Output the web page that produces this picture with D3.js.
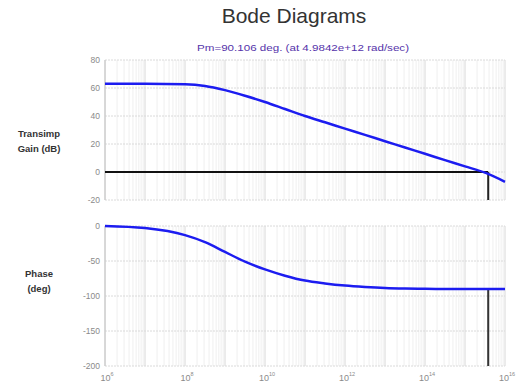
<!DOCTYPE html>
<html>
<head>
<meta charset="utf-8">
<script src="https://cdn.jsdelivr.net/npm/d3@7"></script>
<style>
body { margin: 0; background: #fff; }
svg { font-family: "Liberation Sans", Arial, sans-serif; }
</style>
</head>
<body>
<div id="chart"></div>
<script>
// data (frequency as log10 rad/sec)
var freqExp = [6, 7, 8, 8.5, 9, 9.5, 10, 10.5, 11, 11.5, 12, 12.5, 13, 13.5, 14, 14.5, 15, 15.5, 16];
var gainDb = [63, 63, 62.7, 61.5, 58.5, 54.5, 50, 45, 40, 35.5, 31, 26.5, 22, 17.5, 13, 8.5, 4, -0.5, -7];
var phaseDeg = [0, -3, -13, -23, -37, -51, -62, -71, -78, -82, -85, -87, -88.5, -89.3, -89.7, -89.9, -90, -90, -90];
var gainTicks = [80, 60, 40, 20, 0, -20];
var phaseTicks = [0, -50, -100, -150, -200];
var decadeTicks = [6, 8, 10, 12, 14, 16];
var crossExp = 15.58;   // where the gain crosses 0 dB
var crossPhase = -90;

var w = 522, h = 385;
var svg = d3.select("#chart").append("svg").attr("width", w).attr("height", h);

var x = d3.scaleLog().domain([1e6, 1e16]).range([105, 505]);
var yGain = d3.scaleLinear().domain([-20, 80]).range([200, 60]);
var yPhase = d3.scaleLinear().domain([-200, 0]).range([366, 226]);

// minor log grid values
var minor = [];
for (var e = 6; e < 16; e++) {
	for (var k = 1; k < 10; k++) minor.push(k * Math.pow(10, e));
}
minor.push(1e16);

function panel(y, ticks, yTop, yBot) {
	var g = svg.append("g");
	g.selectAll(".vg").data(minor).enter().append("line")
		.attr("x1", function (d) { return x(d); })
		.attr("x2", function (d) { return x(d); })
		.attr("y1", yTop).attr("y2", yBot)
		.attr("stroke", function (d) { return Math.log10(d) % 1 === 0 ? "#d8d8d8" : "#efefef"; })
		.attr("stroke-width", 1);
	g.selectAll(".hg").data(ticks).enter().append("line")
		.attr("x1", 105).attr("x2", 505)
		.attr("y1", function (d) { return y(d); })
		.attr("y2", function (d) { return y(d); })
		.attr("stroke", "#dadada")
		.attr("stroke-dasharray", "2,1");
	// left axis
	g.append("line").attr("x1", 105).attr("x2", 105).attr("y1", yTop).attr("y2", yBot)
		.attr("stroke", "#c4c4c4");
	g.selectAll(".tl").data(ticks).enter().append("text")
		.attr("x", 100)
		.attr("y", function (d) { return y(d) + 3; })
		.attr("text-anchor", "end")
		.attr("font-size", 8.5)
		.attr("fill", "#8a8a8a")
		.text(function (d) { return d; });
	return g;
}

panel(yGain, gainTicks, 60, 200);
panel(yPhase, phaseTicks, 226, 366);

// x tick labels
var xl = svg.append("g");
decadeTicks.forEach(function (d) {
	var t = xl.append("text")
		.attr("x", x(Math.pow(10, d)) + 2)
		.attr("y", 381)
		.attr("text-anchor", "middle")
		.attr("font-size", 9)
		.attr("fill", "#8a8a8a");
	t.append("tspan").text("10");
	t.append("tspan").attr("dy", -5).attr("font-size", 5.5).text(d);
});

// crossover markers
svg.append("line")
	.attr("x1", x(1e6)).attr("x2", x(Math.pow(10, crossExp)))
	.attr("y1", yGain(0)).attr("y2", yGain(0))
	.attr("stroke", "#111").attr("stroke-width", 2.2);
svg.append("line")
	.attr("x1", x(Math.pow(10, crossExp))).attr("x2", x(Math.pow(10, crossExp)))
	.attr("y1", yGain(0)).attr("y2", yGain(-20))
	.attr("stroke", "#222").attr("stroke-width", 2);
svg.append("line")
	.attr("x1", x(Math.pow(10, crossExp))).attr("x2", x(Math.pow(10, crossExp)))
	.attr("y1", yPhase(crossPhase)).attr("y2", yPhase(-200))
	.attr("stroke", "#333").attr("stroke-width", 2);

// curves
var gainLine = d3.line()
	.x(function (d, i) { return x(Math.pow(10, freqExp[i])); })
	.y(function (d) { return yGain(d); })
	.curve(d3.curveMonotoneX);
var phaseLine = d3.line()
	.x(function (d, i) { return x(Math.pow(10, freqExp[i])); })
	.y(function (d) { return yPhase(d); })
	.curve(d3.curveMonotoneX);

svg.append("path").datum(gainDb).attr("d", gainLine)
	.attr("fill", "none").attr("stroke", "#1c1cf0").attr("stroke-width", 2.5);
svg.append("path").datum(phaseDeg).attr("d", phaseLine)
	.attr("fill", "none").attr("stroke", "#1c1cf0").attr("stroke-width", 2.5);

// titles
svg.append("text").attr("x", 294).attr("y", 23).attr("text-anchor", "middle")
	.attr("font-size", 21).attr("fill", "#333").text("Bode Diagrams");
svg.append("text").attr("x", 303).attr("y", 51).attr("text-anchor", "middle")
	.attr("font-size", 9.5).attr("fill", "#5533aa")
	.attr("textLength", 212).attr("lengthAdjust", "spacingAndGlyphs")
	.text("Pm=90.106 deg. (at 4.9842e+12 rad/sec)");

function ylabel(lines, yc) {
	var t = svg.append("text").attr("text-anchor", "middle")
		.attr("font-size", 9.5).attr("font-weight", "bold").attr("fill", "#333");
	lines.forEach(function (s, i) {
		t.append("tspan").attr("x", 39).attr("y", yc + i * 15).text(s);
	});
}
ylabel(["Transimp", "Gain (dB)"], 137);
ylabel(["Phase", "(deg)"], 277);
</script>
</body>
</html>
